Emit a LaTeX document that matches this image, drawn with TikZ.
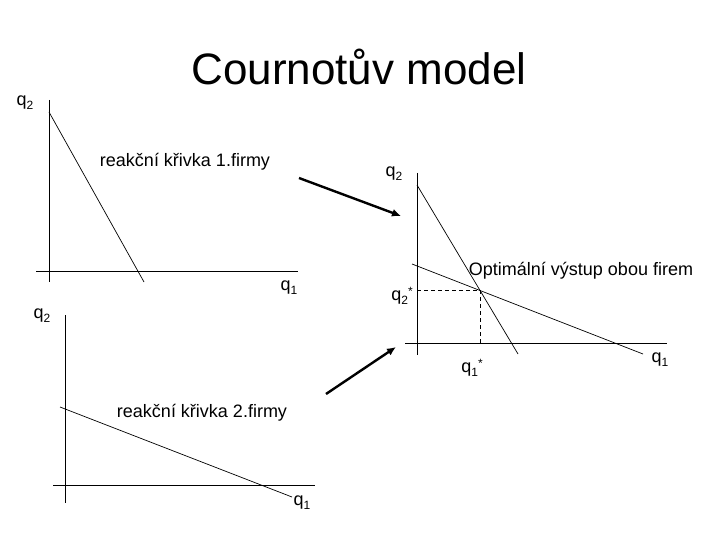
\documentclass[tikz,border=0pt]{standalone}
\usepackage{fontspec}
\setmainfont{Liberation Sans}
\usetikzlibrary{arrows.meta}
\newcommand\lowsub[1]{\raisebox{-3.5pt}{\fontsize{12}{12}\selectfont #1}}
\newcommand\highsup[1]{\raisebox{5pt}{\fontsize{12}{12}\selectfont #1}}
\begin{document}
\begin{tikzpicture}[x=1pt,y=-1pt,
  lbl/.style={inner sep=0pt,font=\fontsize{18}{21}\selectfont},
  ttl/.style={inner sep=0pt,font=\fontsize{44}{50}\selectfont},
  axisline/.style={line width=0.9pt,black},
  curve/.style={line width=0.7pt,black},
  guide/.style={line width=0.7pt,black,dash pattern=on 4pt off 3pt},
  bigarrow/.style={line width=2.4pt,black,-{Latex[length=9pt,width=8pt]}}]
\useasboundingbox (0,0) rectangle (720,540);
\fill[white] (0,0) rectangle (720,540);
% title
\node[ttl,anchor=base] (title) at (359,85) {Cournotův model};
% ---- top-left graph
\coordinate (a1t) at (49,100); \coordinate (a1b) at (49,282);
\coordinate (a1l) at (36,271); \coordinate (a1r) at (298,271);
\coordinate (r1s) at (49,112); \coordinate (r1e) at (144,282);
\draw[axisline] (a1t) -- (a1b);
\draw[axisline] (a1l) -- (a1r);
\draw[curve] (r1s) -- (r1e);
\node[lbl] (q2a) at (25,103) {q\lowsub{2}};
\node[lbl] (q1a) at (289,288) {q\lowsub{1}};
\node[lbl,anchor=base] (rk1) at (185,167) {reakční křivka 1.firmy};
% ---- bottom-left graph
\coordinate (a2t) at (65,315); \coordinate (a2b) at (65,503);
\coordinate (a2l) at (53,485); \coordinate (a2r) at (315,485);
\coordinate (r2s) at (60,407); \coordinate (r2e) at (292,497);
\draw[axisline] (a2t) -- (a2b);
\draw[axisline] (a2l) -- (a2r);
\draw[curve] (r2s) -- (r2e);
\node[lbl] (q2b) at (42,316) {q\lowsub{2}};
\node[lbl] (q1b) at (302,503) {q\lowsub{1}};
\node[lbl,anchor=base] (rk2) at (202,417) {reakční křivka 2.firmy};
% ---- right graph
\coordinate (a3t) at (417,173); \coordinate (a3b) at (417,355);
\coordinate (a3l) at (405,343); \coordinate (a3r) at (667,343);
\coordinate (r3s) at (417,185); \coordinate (r3e) at (518,354);
\coordinate (r4s) at (412,264); \coordinate (r4e) at (643,354);
\draw[axisline] (a3t) -- (a3b);
\draw[axisline] (a3l) -- (a3r);
\draw[curve] (r3s) -- (r3e);
\draw[curve] (r4s) -- (r4e);
\coordinate (eq) at (intersection of r3s--r3e and r4s--r4e);
\draw[guide] (eq -| a3t) -- (eq) -- (eq |- a3l);
\node[lbl] (q2c) at (394,174) {q\lowsub{2}};
\node[lbl] (q1c) at (660,360) {q\lowsub{1}};
\node[lbl] (q2s) at (402,296) {q\lowsub{2}\highsup{*}};
\node[lbl] (q1s) at (472,368) {q\lowsub{1}\highsup{*}};
\node[lbl,anchor=base] (opt) at (581,275) {Optimální výstup obou firem};
% ---- arrows
\coordinate (ar1s) at (299,178); \coordinate (ar1e) at (401,216);
\coordinate (ar2s) at (326,394); \coordinate (ar2e) at (396,347);
\draw[bigarrow] (ar1s) -- (ar1e);
\draw[bigarrow] (ar2s) -- (ar2e);
\end{tikzpicture}
\end{document}
